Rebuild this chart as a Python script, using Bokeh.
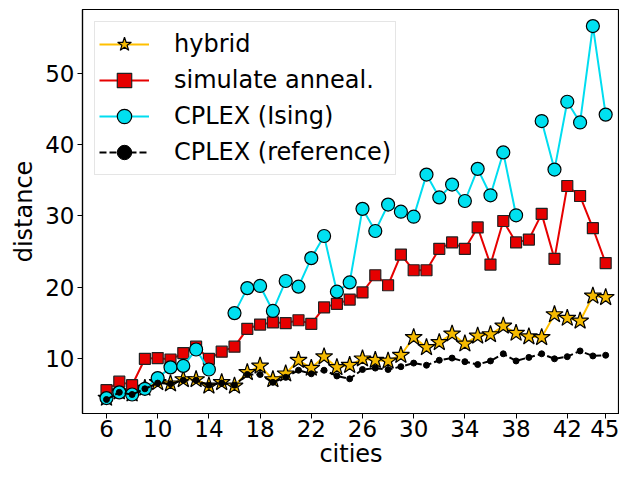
from bokeh.plotting import figure
from bokeh.models import ColumnDataSource, FixedTicker, Range1d
from bokeh.embed import file_html
from bokeh.resources import INLINE

nan = float("nan")
cities = list(range(6, 46))
hybrid = [4.5, 5.4, 5.1, 5.9, 6.7, 6.5, 7.1, 7.1, 6.2, 6.7, 6.2, 8.1, 9.0, 7.1, 7.9, 9.8, 8.7, 10.3, 8.8, 9.1,
          10.0, 9.8, 9.7, 10.5, 13.0, 11.6, 12.3, 13.5, 12.1, 13.2, 13.4, 14.6, 13.6, 13.1, 13.0, 16.2, 15.7, 15.3, 18.8, 18.6]
sim_anneal = [5.6, 6.8, 6.3, 10.0, 10.1, 9.9, 10.8, 11.7, 10.0, 11.0, 11.7, 14.2, 14.8, 15.1, 15.0, 15.4, 14.9, 17.2, 17.7, 18.3,
              19.3, 21.7, 20.3, 24.6, 22.4, 22.4, 25.4, 26.3, 25.4, 28.4, 23.2, 29.3, 26.3, 26.7, 30.3, 24.0, 34.2, 32.8, 28.3, 23.4]
cplex_ising = [4.5, 5.3, 5.0, 5.8, 7.3, 8.8, 9.0, 11.3, 8.5, nan, 16.4, 19.9, 20.2, 16.7, 20.9, 20.1, 24.1, 27.2, 19.4, 20.7,
               31.0, 27.9, 31.6, 30.6, 29.9, 35.8, 32.6, 34.4, 32.1, 36.6, 32.9, 38.9, 30.1, nan, 43.3, 36.5, 46.0, 43.1, 56.6, 44.2]
cplex_ref = [4.3, 5.3, 5.0, 5.8, 6.6, 6.5, 7.0, 7.0, 6.3, 6.6, 6.3, 7.8, 7.8, 6.7, 7.4, 8.4, 7.9, 8.4, 7.6, 7.2,
             8.5, 8.7, 8.5, 8.9, 9.4, 9.1, 9.8, 10.1, 9.6, 9.2, 9.7, 10.7, 9.7, 10.2, 10.7, 10.0, 10.3, 11.1, 10.4, 10.5]
x_ticks = [6, 10, 14, 18, 22, 26, 30, 34, 38, 42, 45]
y_ticks = [10, 20, 30, 40, 50]

src = ColumnDataSource(dict(x=cities, h=hybrid, sa=sim_anneal, ci=cplex_ising, cr=cplex_ref))

p = figure(width=619, height=475, output_backend="svg", toolbar_location=None,
           x_range=Range1d(4.125, 46.08), y_range=Range1d(2.34, 58.92),
           min_border_left=82, min_border_right=0, min_border_top=9, min_border_bottom=62)
p.background_fill_color = "white"
p.border_fill_color = "white"
p.outline_line_color = "black"
p.outline_line_width = 1.2
p.xgrid.visible = False
p.ygrid.visible = False

FONT = "DejaVu Sans"
for ax in (p.xaxis[0], p.yaxis[0]):
    ax.major_label_text_font = FONT
    ax.major_label_text_font_size = "23px"
    ax.major_label_text_color = "black"
    ax.major_label_standoff = 1
    ax.axis_label_text_font = FONT
    ax.axis_label_text_font_size = "24px"
    ax.axis_label_text_font_style = "normal"
    ax.axis_label_text_color = "black"
    ax.axis_label_standoff = 0
    ax.axis_line_color = "black"
    ax.axis_line_width = 1.2
    ax.major_tick_line_color = "black"
    ax.major_tick_out = 5
    ax.major_tick_in = 0
    ax.minor_tick_line_color = None
p.yaxis.major_label_standoff = 3
p.yaxis.axis_label_standoff = 4
p.xaxis.ticker = FixedTicker(ticks=x_ticks)
p.yaxis.ticker = FixedTicker(ticks=y_ticks)
p.xaxis.axis_label = "cities"
p.yaxis.axis_label = "distance"

gold = "#FFC000"
p.line("x", "h", source=src, line_color=gold, line_width=2, legend_label="hybrid")
p.scatter("x", "h", source=src, marker="star", size=18, fill_color="#F5BA00", line_color="black",
          line_width=1.2, legend_label="hybrid")

p.line("x", "sa", source=src, line_color="#E60000", line_width=2, legend_label="simulate anneal.")
p.scatter("x", "sa", source=src, marker="square", size=11, fill_color="#E60000", line_color="#222222",
          line_width=1.2, legend_label="simulate anneal.")

p.line("x", "ci", source=src, line_color="#00DDF0", line_width=2, legend_label="CPLEX (Ising)")
p.scatter("x", "ci", source=src, marker="circle", size=13, fill_color="#00E0F0", line_color="black",
          line_width=1.2, legend_label="CPLEX (Ising)")

p.line("x", "cr", source=src, line_color="black", line_width=2, line_dash="7 3", legend_label="CPLEX (reference)")
p.scatter("x", "cr", source=src, marker="circle", size=6, fill_color="black", line_color="black",
          legend_label="CPLEX (reference)")

lg = p.legend[0]
lg.location = "top_left"
lg.margin = 12
lg.padding = 4
lg.spacing = 0
lg.glyph_width = 50
lg.glyph_height = 36
lg.label_height = 36
lg.label_standoff = 25
lg.label_text_font = FONT
lg.label_text_font_size = "24px"
lg.label_text_color = "black"
lg.border_line_color = "#cccccc"
lg.border_line_width = 1
lg.background_fill_alpha = 0.9

open("out.html", "w").write(file_html(p, INLINE))
